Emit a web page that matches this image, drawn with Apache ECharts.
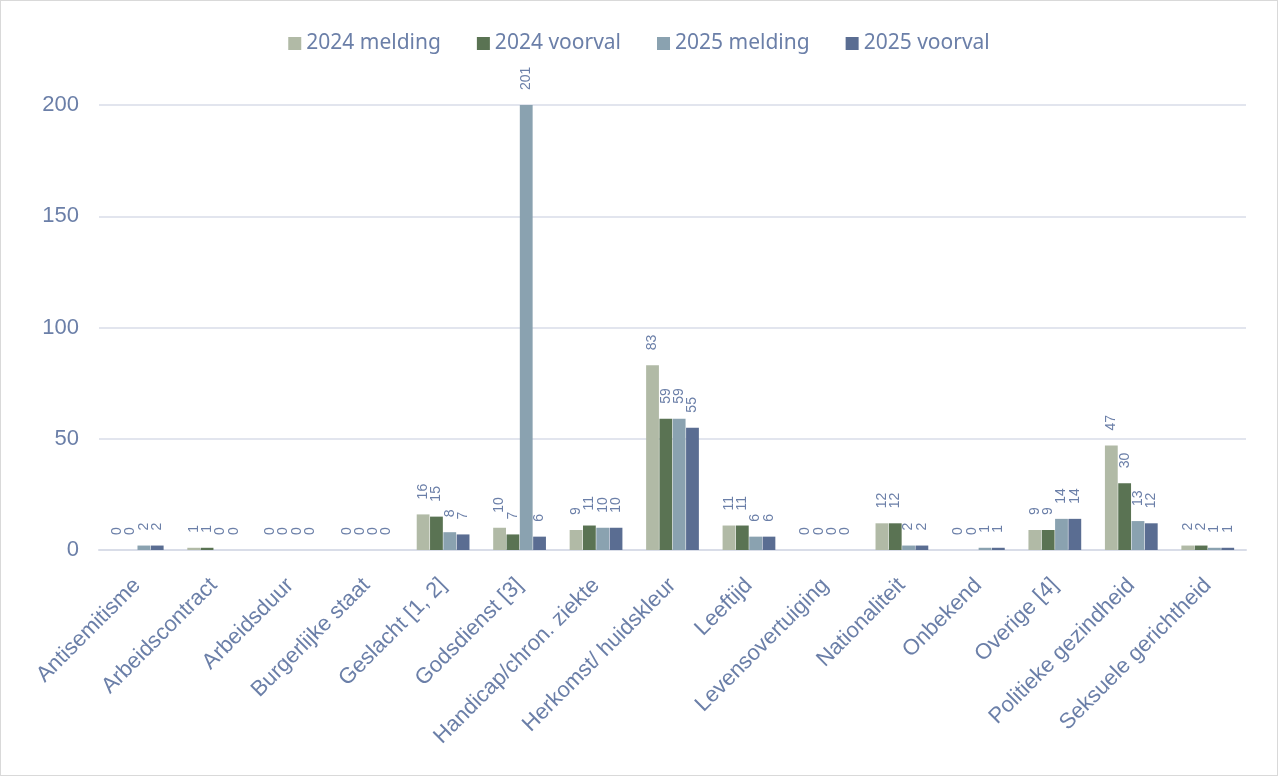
<!DOCTYPE html>
<html>
<head>
<meta charset="utf-8">
<script src="https://cdn.jsdelivr.net/npm/echarts@6/dist/echarts.min.js"></script>
<style>
  html, body { margin: 0; padding: 0; background: #fff; }
  #chart { width: 1276px; height: 774px; border: 1px solid #d9d9d9; }
</style>
</head>
<body>
<div id="chart"></div>
<script>
var categories = [
  "Antisemitisme", "Arbeidscontract", "Arbeidsduur", "Burgerlijke staat",
  "Geslacht [1, 2]", "Godsdienst [3]", "Handicap/chron. ziekte",
  "Herkomst/ huidskleur", "Leeftijd", "Levensovertuiging", "Nationaliteit",
  "Onbekend", "Overige [4]", "Politieke gezindheid", "Seksuele gerichtheid"
];
var melding2024 = [0, 1, 0, 0, 16, 10, 9, 83, 11, 0, 12, 0, 9, 47, 2];
var voorval2024 = [0, 1, 0, 0, 15, 7, 11, 59, 11, 0, 12, 0, 9, 30, 2];
var melding2025 = [2, 0, 0, 0, 8, 201, 10, 59, 6, 0, 2, 1, 14, 13, 1];
var voorval2025 = [2, 0, 0, 0, 7, 6, 10, 55, 6, 0, 2, 1, 14, 12, 1];
var seriesNames = ["2024 melding", "2024 voorval", "2025 melding", "2025 voorval"];
var colors = ["#b1baa6", "#5a7353", "#8aa2b0", "#5a6d92"];

var textColor = "#6b7fa8";
var font = "'Liberation Sans', Arial, sans-serif";

function makeSeries(name, data, color) {
  return {
    name: name,
    type: "bar",
    data: data,
    barGap: "4%",
    barCategoryGap: "31%",
    itemStyle: { color: color },
    label: {
      show: true,
      position: "top",
      rotate: 90,
      align: "left",
      verticalAlign: "middle",
      distance: 15,
      color: textColor,
      fontSize: 14,
      fontFamily: font
    }
  };
}

var myChart = echarts.init(document.getElementById("chart"));
var option = {
  animation: false,
  color: colors,
  legend: {
    top: 27,
    left: "center",
    itemWidth: 13,
    itemHeight: 13,
    itemGap: 36,
    icon: "rect",
    textStyle: { color: textColor, fontSize: 21, fontFamily: "'Noto Sans', sans-serif" }
  },
  grid: {
    top: 104,
    left: 98,
    right: 31,
    bottom: 225
  },
  xAxis: {
    type: "category",
    data: categories,
    axisTick: { show: false },
    axisLine: { lineStyle: { color: "#d9dde8", width: 2 } },
    axisLabel: {
      rotate: 45,
      interval: 0,
      color: textColor,
      fontSize: 22,
      fontFamily: font,
      margin: 32
    }
  },
  yAxis: {
    type: "value",
    min: 0,
    max: 200,
    interval: 50,
    axisLine: { show: false },
    axisTick: { show: false },
    splitLine: { lineStyle: { color: "#d9dde8", width: 1.5 } },
    axisLabel: {
      color: textColor,
      fontSize: 22,
      fontFamily: font,
      margin: 20
    }
  },
  series: [
    makeSeries(seriesNames[0], melding2024, colors[0]),
    makeSeries(seriesNames[1], voorval2024, colors[1]),
    makeSeries(seriesNames[2], melding2025, colors[2]),
    makeSeries(seriesNames[3], voorval2025, colors[3])
  ]
};
myChart.setOption(option);
</script>
</body>
</html>
